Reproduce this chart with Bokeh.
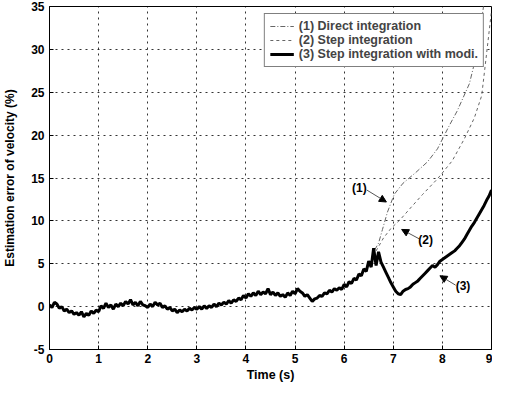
from bokeh.plotting import figure
from bokeh.models import (Legend, LegendItem, Range1d, FixedTicker, Arrow, NormalHead, Label,
                          PrintfTickFormatter)
from bokeh.embed import file_html
from bokeh.resources import INLINE

# ---------------- data ----------------
x_ticks = [0, 1, 2, 3, 4, 5, 6, 7, 8, 9]
y_ticks = [-5, 0, 5, 10, 15, 20, 25, 30, 35]

dt3 = 0.05
err3 = [
    0.2, -0.1, 0.5, 0.3, -0.2, 0.0, -0.5, -0.3, -0.7, -0.5,
    -0.9, -0.7, -1.0, -0.6, -1.2, -0.8, -1.0, -0.5, -0.8, -0.4,
    -0.6, 0.1, -0.2, 0.4, -0.1, 0.2, -0.3, 0.3, 0.0, 0.4,
    0.1, 0.6, 0.3, 0.8, 0.2, 0.5, 0.1, 0.6, 0.2, 0.1,
    -0.1, 0.3, 0.0, 0.5, 0.2, 0.4, -0.1, 0.1, -0.3, -0.1,
    -0.5, -0.3, -0.7, -0.4, -0.6, -0.3, -0.5, -0.2, -0.4, -0.1,
    -0.3, 0.0, -0.3, 0.1, -0.2, 0.1, -0.1, 0.3, 0.0, 0.4,
    0.2, 0.5, 0.3, 0.7, 0.4, 0.8, 0.6, 1.0, 0.8, 1.3,
    1.0, 1.5, 1.2, 1.6, 1.3, 1.8, 1.4, 1.7, 1.5, 2.1,
    1.4, 1.7, 1.3, 1.6, 1.2, 1.4, 1.1, 1.6, 1.3, 1.8,
    1.5, 2.1, 1.8, 1.6, 1.2, 1.4, 1.0, 0.6, 0.9, 1.0,
    1.3, 1.2, 1.6, 1.5, 1.9, 1.7, 2.1, 1.9, 2.2, 2.0,
    2.6, 2.3, 2.9, 2.7, 3.3, 3.1, 3.8, 3.6, 4.4, 4.1,
    5.3, 4.6, 6.8, 4.8, 6.4, 5.2, 4.6, 4.0, 3.4, 2.8,
    2.3, 1.8, 1.5, 1.4, 1.8, 2.0, 2.1, 2.3, 2.6, 2.8,
    3.0, 3.3, 3.6, 3.9, 4.2, 4.5, 4.8, 4.6, 4.9, 5.3,
    5.5, 5.7, 5.9, 6.1, 6.3, 6.5, 6.8, 7.1, 7.5, 7.9,
    8.4, 8.9, 9.4, 9.8, 10.3, 10.8, 11.3, 11.8, 12.4, 12.9,
    13.6,
]
t3 = [round(i * dt3, 2) for i in range(len(err3))]

t1 = [6.62, 6.7, 6.78, 6.88, 7.02, 7.2, 7.45, 7.7, 7.9, 8.13, 8.3, 8.55, 8.7, 8.85]
err1 = [6.6, 7.4, 9.0, 11.0, 13.1, 14.4, 15.6, 16.9, 18.4, 21.0, 22.8, 26.0, 29.5, 35.5]

t2 = [6.65, 6.8, 6.95, 7.15, 7.35, 7.6, 7.9, 8.2, 8.45, 8.65, 8.8, 8.9, 9.0]
err2 = [6.5, 8.0, 9.1, 10.2, 11.5, 13.1, 14.9, 17.0, 19.6, 22.0, 24.6, 29.5, 34.5]

series_names = ["(1) Direct integration", "(2) Step integration", "(3) Step integration with modi."]

# callout labels: text position and arrow (tail -> head)
callouts = ["(1)", "(2)", "(3)"]
callout_x = [6.31, 7.66, 8.42]
callout_y = [13.0, 7.0, 1.6]
arrow_x0 = [6.46, 7.53, 8.27]
arrow_y0 = [13.6, 7.9, 2.5]
arrow_x1 = [6.86, 7.17, 7.95]
arrow_y1 = [12.2, 9.0, 3.6]

FONT = "Liberation Sans"

p = figure(width=492, height=384, output_backend="svg", toolbar_location=None,
           x_range=Range1d(0, 9), y_range=Range1d(-5, 35),
           min_border_left=45, min_border_right=1, min_border_top=6, min_border_bottom=31)
p.background_fill_color = "white"
p.border_fill_color = "white"
p.outline_line_color = "black"
p.outline_line_width = 1

for ax in (p.xaxis[0], p.yaxis[0]):
    ax.major_label_text_font = FONT
    ax.major_label_text_font_size = "12px"
    ax.major_label_text_font_style = "bold"
    ax.major_label_text_color = "black"
    ax.axis_label_text_font = FONT
    ax.axis_label_text_font_style = "bold"
    ax.axis_label_text_color = "black"
    ax.axis_line_color = "black"
    ax.major_tick_in = 4
    ax.major_tick_out = 0
    ax.major_tick_line_color = "black"
    ax.minor_tick_line_color = None
    ax.formatter = PrintfTickFormatter(format="%d")

p.xaxis.ticker = FixedTicker(ticks=x_ticks)
p.yaxis.ticker = FixedTicker(ticks=y_ticks)
p.xaxis.major_label_standoff = 4
p.yaxis.major_label_standoff = 5
p.xaxis.axis_label = "Time (s)"
p.xaxis.axis_label_text_font_size = "12.5px"
p.xaxis.axis_label_standoff = 2
p.yaxis.axis_label = "Estimation error of velocity (%)"
p.yaxis.axis_label_text_font_size = "12px"
p.yaxis.axis_label_standoff = 11

p.grid.grid_line_color = "black"
p.grid.grid_line_alpha = 0.8
p.grid.grid_line_dash = "2 4"
p.grid.grid_line_width = 1
p.xgrid.ticker = FixedTicker(ticks=x_ticks)
p.ygrid.ticker = FixedTicker(ticks=y_ticks)

r1 = p.line(t1, err1, line_color="#666666", line_width=1, line_dash="5 2 1 2")
r2 = p.line(t2, err2, line_color="#666666", line_width=1, line_dash="3 3")
r3 = p.line(t3, err3, line_color="black", line_width=3)

for i in range(len(callouts)):
    p.add_layout(Arrow(end=NormalHead(size=7, fill_color="black", line_color="black"),
                       x_start=arrow_x0[i], y_start=arrow_y0[i],
                       x_end=arrow_x1[i], y_end=arrow_y1[i],
                       line_color="#555555", line_width=1))
    p.add_layout(Label(x=callout_x[i], y=callout_y[i], text=callouts[i],
                       text_font=FONT, text_font_size="12px", text_font_style="bold",
                       text_color="black", text_align="center"))

legend = Legend(items=[LegendItem(label=series_names[0], renderers=[r1]),
                       LegendItem(label=series_names[1], renderers=[r2]),
                       LegendItem(label=series_names[2], renderers=[r3])],
                location="top_right")
legend.margin = 7
legend.padding = 5
legend.spacing = 0
legend.label_height = 14
legend.glyph_height = 14
legend.glyph_width = 24
legend.label_standoff = 5
legend.label_text_font = FONT
legend.label_text_font_size = "12.5px"
legend.label_text_font_style = "bold"
legend.border_line_color = "black"
legend.border_line_width = 1
legend.background_fill_color = "white"
legend.background_fill_alpha = 1.0
p.add_layout(legend, "center")

open("out.html", "w").write(file_html(p, INLINE))
